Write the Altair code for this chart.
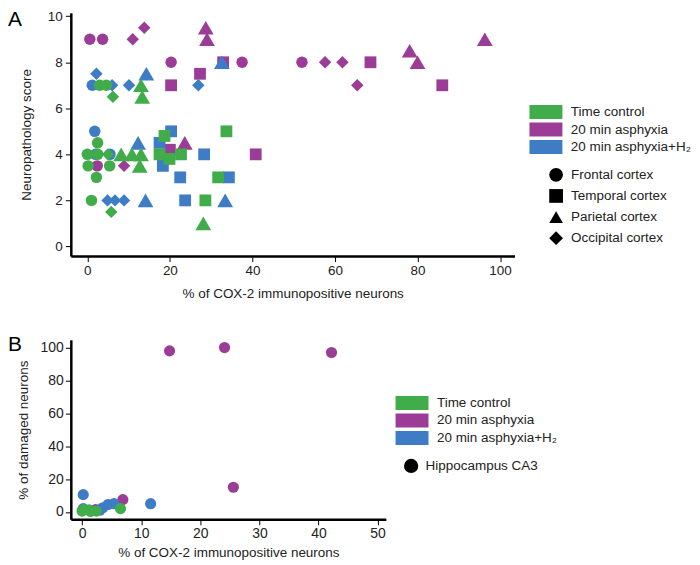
import altair as alt
import pandas as pd

FONT = "Liberation Sans"
GROUPS = ["Time control", "20 min asphyxia", "20 min asphyxia+H₂"]
COLORS = ["#41ad4a", "#9b3d97", "#3e7cc6"]
REGIONS = ["Frontal cortex", "Temporal cortex", "Parietal cortex", "Occipital cortex"]
REGION_CODE = {"F": "Frontal cortex", "T": "Temporal cortex", "P": "Parietal cortex", "O": "Occipital cortex"}
SHAPES = ["circle", "square", "triangle-up", "diamond"]
MARK_SIZES = [132, 140, 250, 155]
HIPPO = "Hippocampus CA3"

# ---------------- Panel A data ----------------
# 20 min asphyxia
a_asp_region = list("FFFFFFOOOOOOPPPPPPTTTTTTT")
a_asp_x = [0.6, 3.7, 20.3, 37.5, 52.0, 2.4, 11.0, 13.8, 57.6, 61.8, 65.4, 8.9,
           28.7, 29.0, 78.1, 80.0, 96.3, 23.6, 20.3, 27.3, 32.9, 68.6, 86.0, 40.8, 20.0]
a_asp_y = [9, 9, 8, 8, 8, 3.5, 9, 9.5, 8, 8, 7, 3.5,
           9.5, 9, 8.5, 8, 9, 4.5, 7, 7.5, 8, 8, 7, 4, 4.2]
# 20 min asphyxia + H2
a_h2_region = list("FFFFOOOOOOOPPPPPTTTTTTT")
a_h2_x = [1.2, 1.8, 2.0, 5.5, 2.2, 6.0, 10.1, 26.9, 4.9, 6.7, 8.9, 14.3, 32.6, 12.3,
          14.1, 33.4, 20.3, 17.5, 18.3, 28.3, 22.5, 34.3, 23.7]
a_h2_y = [7, 5, 4, 4, 7.5, 7, 7, 7, 2, 2, 2, 7.5, 8, 4.5, 2, 2, 5, 4.5, 3.5, 4, 3, 3, 2]
# Time control
a_tc_region = list("FFFFFFFFFOOOPPPPPPPTTTTTTT")
a_tc_x = [3.0, 4.6, 2.5, 0.0, 2.5, 0.2, 5.4, 2.2, 1.0, 6.2, 5.0, 5.8, 13.0, 13.3,
          8.2, 10.8, 13.0, 12.7, 28.1, 18.7, 17.5, 22.7, 19.9, 33.7, 31.7, 28.6]
a_tc_y = [7, 7, 4.5, 4, 4, 3.5, 3.5, 3, 2, 6.5, 4, 1.5, 7, 6.5, 4, 4, 4, 3.5, 1,
          4.8, 4, 4, 3.8, 5, 3, 2]

# ---------------- Panel B data ----------------
b_asp_x = [14.8, 24.1, 42.2, 25.6, 6.9, 2.3]
b_asp_y = [98, 100, 97, 15, 7.5, 1.5]
b_h2_x = [0.2, 11.6, 3.5, 4.4, 5.4, 0.2, 1.5, 3.0]
b_h2_y = [10.5, 5, 2.5, 4.5, 5, 2, 0.5, 1]
b_tc_x = [0.0, 0.3, 1.4, 2.4, 1.2, 6.5]
b_tc_y = [0.5, 1.5, 0.3, 0.5, 1.2, 2]


def build(parts):
    rows = []
    for group, xs, ys, regs in parts:
        for x, y, r in zip(xs, ys, regs):
            rows.append({"x": x, "y": y, "group": group, "region": r})
    df = pd.DataFrame(rows)
    df["idx"] = range(len(df))
    return df


dfA = build([
    (GROUPS[1], a_asp_x, a_asp_y, [REGION_CODE[c] for c in a_asp_region]),
    (GROUPS[2], a_h2_x, a_h2_y, [REGION_CODE[c] for c in a_h2_region]),
    (GROUPS[0], a_tc_x, a_tc_y, [REGION_CODE[c] for c in a_tc_region]),
])
dfB = build([
    (GROUPS[1], b_asp_x, b_asp_y, [HIPPO] * len(b_asp_x)),
    (GROUPS[2], b_h2_x, b_h2_y, [HIPPO] * len(b_h2_x)),
    (GROUPS[0], b_tc_x, b_tc_y, [HIPPO] * len(b_tc_x)),
])

RECT = "M-2.36,-1H2.36V1H-2.36Z"
TXT = "#222222"


def color_legend(lx, ly):
    return alt.Legend(title=None, orient="none", legendX=lx, legendY=ly,
                      symbolType=RECT, symbolSize=196, symbolStrokeWidth=0,
                      labelOffset=18, rowPadding=3.6, padding=0,
                      labelFontSize=13.5, labelFont=FONT, labelColor=TXT, labelLimit=300)


def shape_legend(lx, ly, size, row_pad, offset):
    return alt.Legend(title=None, orient="none", legendX=lx, legendY=ly,
                      symbolSize=size, symbolStrokeWidth=0,
                      symbolFillColor="black", symbolStrokeColor="black",
                      labelOffset=offset, rowPadding=row_pad, padding=0,
                      labelFontSize=13.5, labelFont=FONT, labelColor=TXT, labelLimit=300)


def letter(ch, yv):
    return alt.Chart(pd.DataFrame({"t": [ch]})).mark_text(
        align="left", baseline="alphabetic", fontSize=21, font=FONT, color="black"
    ).encode(text="t:N", x=alt.value(-63), y=alt.value(yv))


pointsA = alt.Chart(dfA).mark_point(filled=True, opacity=1).encode(
    x=alt.X("x:Q", scale=alt.Scale(domain=[-4, 103.5], nice=False, zero=False),
            axis=alt.Axis(values=[0, 20, 40, 60, 80, 100], title="% of COX-2 immunopositive neurons",
                          labelFontSize=13.5, titleFontSize=13.5, titlePadding=10, labelPadding=2)),
    y=alt.Y("y:Q", scale=alt.Scale(domain=[-0.42, 10.15], nice=False, zero=False),
            axis=alt.Axis(values=[0, 2, 4, 6, 8, 10], title="Neuropathology score",
                          labelFontSize=13.5, titleFontSize=13.5, titlePadding=14, labelPadding=3)),
    color=alt.Color("group:N", scale=alt.Scale(domain=GROUPS, range=COLORS),
                    legend=color_legend(469.5, 92.5)),
    shape=alt.Shape("region:N", scale=alt.Scale(domain=REGIONS, range=SHAPES),
                    legend=shape_legend(479.7, 155.5, 190, 7.2, 8)),
    size=alt.Size("region:N", scale=alt.Scale(type="ordinal", domain=REGIONS, range=MARK_SIZES),
                  legend=None),
    order=alt.Order("idx:Q"),
)

panelA = alt.layer(pointsA, letter("A", 13.5)).properties(width=445, height=244)

pointsB = alt.Chart(dfB).mark_point(filled=True, opacity=1, size=125).encode(
    x=alt.X("x:Q", scale=alt.Scale(domain=[-1.9, 51.4], nice=False, zero=False),
            axis=alt.Axis(values=[0, 10, 20, 30, 40, 50], title="% of COX-2 immunopositive neurons",
                          labelFontSize=14, titleFontSize=13.5, titlePadding=5, labelPadding=2)),
    y=alt.Y("y:Q", scale=alt.Scale(domain=[-4.5, 104.7], nice=False, zero=False),
            axis=alt.Axis(values=[0, 20, 40, 60, 80, 100], title="% of damaged neurons",
                          labelFontSize=14, titleFontSize=13.5, titlePadding=10, labelPadding=2)),
    color=alt.Color("group:N", scale=alt.Scale(domain=GROUPS, range=COLORS),
                    legend=color_legend(335.2, 56.3)),
    shape=alt.Shape("region:N", scale=alt.Scale(domain=[HIPPO], range=["circle"]),
                    legend=shape_legend(333.8, 119, 205, 4, 7)),
    order=alt.Order("idx:Q"),
)

panelB = alt.layer(pointsB, letter("B", 11)).properties(width=316, height=180)

chart = alt.vconcat(panelA, panelB, spacing=84, bounds="flush").resolve_scale(
    color="independent", shape="independent"
).configure(
    font=FONT, padding=0
).configure_view(stroke=None).configure_axis(
    domainColor="black", domainWidth=2.5, tickColor="black", tickWidth=1, tickSize=5.5,
    labelColor=TXT, titleColor=TXT, titleFontWeight="normal", grid=False,
    labelFont=FONT, titleFont=FONT,
)

chart.save("out.html", embed_options={"renderer": "svg", "actions": False})
